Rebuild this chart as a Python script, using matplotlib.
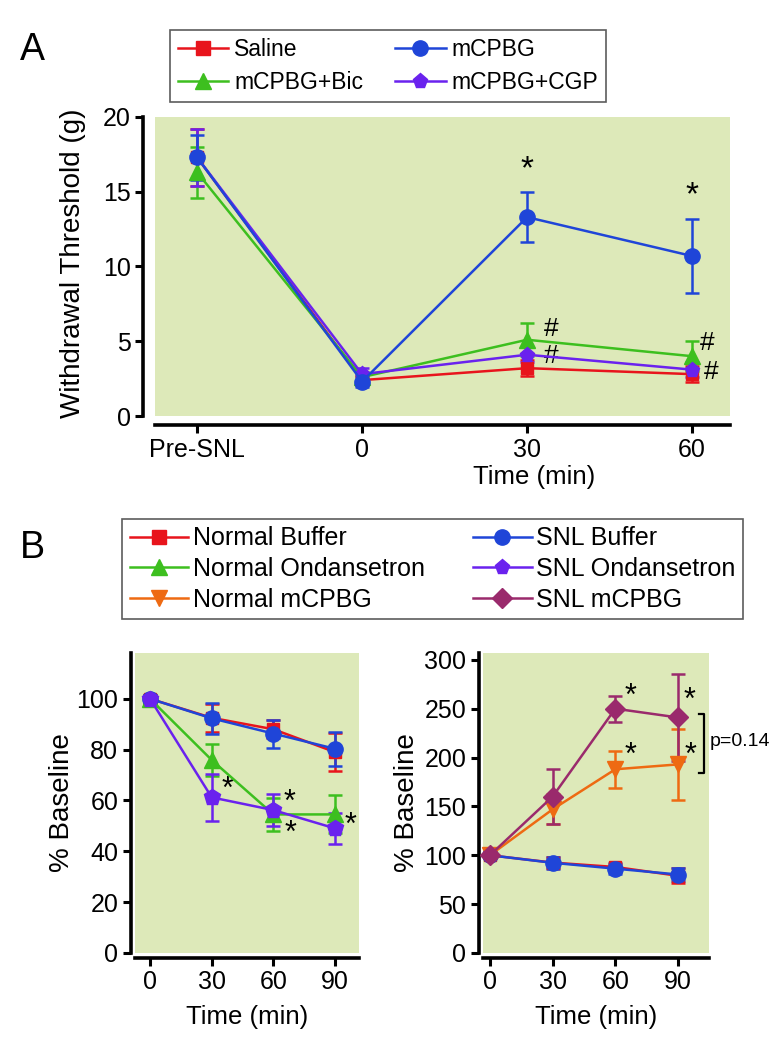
"""Withdrawal threshold (A) and % baseline responses (B) for SNL / mCPBG study."""

import matplotlib
matplotlib.use("Agg")
import matplotlib.pyplot as plt
from matplotlib.lines import Line2D

plt.rcParams["font.family"] = ["Liberation Sans", "DejaVu Sans"]

# ---- panel A data ----------------------------------------------------------
a_labels = ["Pre-SNL", "0", "30", "60"]
saline = [17.3, 2.4, 3.2, 2.8]
saline_err = [1.9, 0.3, 0.55, 0.55]
mcpbg = [17.3, 2.3, 13.3, 10.7]
mcpbg_err = [1.5, 0.35, 1.65, 2.5]
bic = [16.3, 2.6, 5.1, 4.0]
bic_err = [1.7, 0.35, 1.1, 1.0]
cgp = [17.3, 2.8, 4.1, 3.1]
cgp_err = [1.9, 0.4, 0.5, 0.5]

# ---- panel B data ----------------------------------------------------------
b_time = [0, 30, 60, 90]
normal_buffer = [100, 92.5, 88.0, 79.0]
normal_buffer_err = [1.5, 5.5, 3.5, 7.5]
snl_buffer = [100, 92.3, 86.3, 80.3]
snl_buffer_err = [1.5, 6.0, 5.5, 6.7]
normal_ond = [100, 75.9, 54.5, 54.5]
normal_ond_err = [1.5, 6.3, 6.5, 7.5]
snl_ond = [100, 61.2, 56.2, 49.0]
snl_ond_err = [1.5, 9.3, 6.2, 6.0]
normal_mcpbg = [100, 147.0, 188.0, 193.0]
normal_mcpbg_err = [3, 15.5, 19.0, 36.0]
snl_mcpbg = [100, 160.0, 250.0, 241.0]
snl_mcpbg_err = [3, 28.0, 13.5, 45.0]

RED = "#e8141c"
BLUE = "#1f45d8"
GREEN = "#3dbf1f"
PURPLE = "#6a22ee"
ORANGE = "#ee6a12"
MAGENTA = "#9a2a6c"
BG = "#dde9b9"

TICK_FS = 18
XLABEL_FS = 18.5
YLABEL_FS = 20


def style_axes(ax, left_out, bottom_out):
    ax.set_facecolor(BG)
    for side in ("top", "right"):
        ax.spines[side].set_visible(False)
    ax.spines["left"].set_position(("outward", left_out))
    ax.spines["bottom"].set_position(("outward", bottom_out))
    for side in ("left", "bottom"):
        ax.spines[side].set_linewidth(2.6)
    ax.tick_params(width=2.2, length=6, labelsize=TICK_FS, pad=3)


def series(ax, x, y, err, color, marker, label, ms=10):
    ax.errorbar(x, y, yerr=err, color=color, marker=marker, ms=ms,
                lw=1.8, elinewidth=1.8, capsize=5, capthick=1.8,
                label=label, clip_on=False, zorder=3)


def legend_handle(color, marker, ms=11):
    return Line2D([], [], color=color, marker=marker, lw=1.8, ms=ms)


fig = plt.figure(figsize=(7.75, 10.5), dpi=100)

# ---- panel A ---------------------------------------------------------------
axA = fig.add_axes([0.2, 0.6038, 0.742, 0.2848])
style_axes(axA, 8.5, 6.5)
xa = list(range(len(a_labels)))
series(axA, xa, saline, saline_err, RED, "s", "Saline", ms=9)
series(axA, xa, bic, bic_err, GREEN, "^", "mCPBG+Bic", ms=11)
series(axA, xa, cgp, cgp_err, PURPLE, "p", "mCPBG+CGP", ms=11)
series(axA, xa, mcpbg, mcpbg_err, BLUE, "o", "mCPBG", ms=11)
axA.set_xlim(-0.255, 3.23)
axA.set_ylim(0, 20)
axA.set_xticks(xa)
axA.set_xticklabels(a_labels)
axA.set_yticks([0, 5, 10, 15, 20])
axA.set_ylabel("Withdrawal Threshold (g)", fontsize=YLABEL_FS)
axA.yaxis.set_label_coords(-0.12, 0.51)
axA.set_xlabel("Time (min)", fontsize=XLABEL_FS)
axA.xaxis.set_label_coords(0.66, -0.165)

for xi in (2, 3):
    axA.text(xi, mcpbg[xi] + mcpbg_err[xi] + 0.5, "*", ha="center",
             va="bottom", fontsize=24)
axA.text(2.1, bic[2] + 0.7, "#", fontsize=19, va="center")
axA.text(2.1, cgp[2] - 0.1, "#", fontsize=19, va="center")
axA.text(3.05, bic[3] + 0.9, "#", fontsize=19, va="center")
axA.text(3.07, cgp[3] - 0.15, "#", fontsize=19, va="center")

legA = fig.legend(
    [legend_handle(RED, "s", 10), legend_handle(GREEN, "^"),
     legend_handle(BLUE, "o"), legend_handle(PURPLE, "p")],
    ["Saline", "mCPBG+Bic", "mCPBG", "mCPBG+CGP"], ncol=2,
    loc="upper left", bbox_to_anchor=(170 / 775, 1 - 30 / 1050),
    borderaxespad=0, fontsize=16.5, frameon=True, fancybox=False,
    edgecolor="#333333", handlelength=2.2, columnspacing=1.4,
    handletextpad=0.25, borderpad=0.35, labelspacing=0.45)
legA.get_frame().set_linewidth(1.2)

fig.text(0.026, 0.952, "A", fontsize=27, va="center")
fig.text(0.026, 0.478, "B", fontsize=27, va="center")

# ---- panel B left ----------------------------------------------------------
axL = fig.add_axes([0.1742, 0.0924, 0.289, 0.2857])
style_axes(axL, 3, 3.5)
series(axL, b_time, normal_buffer, normal_buffer_err, RED, "s", "Normal Buffer", ms=9)
series(axL, b_time, snl_buffer, snl_buffer_err, BLUE, "o", "SNL Buffer", ms=11)
series(axL, b_time, normal_ond, normal_ond_err, GREEN, "^", "Normal Ondansetron", ms=11)
series(axL, b_time, snl_ond, snl_ond_err, PURPLE, "p", "SNL Ondansetron", ms=12)
axL.set_xlim(-7.3, 101.6)
axL.set_ylim(0, 118)
axL.set_xticks(b_time)
axL.set_yticks([0, 20, 40, 60, 80, 100])
axL.set_ylabel("% Baseline", fontsize=YLABEL_FS)
axL.yaxis.set_label_coords(-0.27, 0.5)
axL.set_xlabel("Time (min)", fontsize=XLABEL_FS, labelpad=8)
axL.text(37.5, 64, "*", fontsize=22, ha="center", va="center")
axL.text(68, 59, "*", fontsize=22, ha="center", va="center")
axL.text(68.5, 47, "*", fontsize=22, ha="center", va="center")
axL.text(97.5, 50, "*", fontsize=22, ha="center", va="center")

# ---- panel B right ---------------------------------------------------------
axR = fig.add_axes([0.6232, 0.0924, 0.2916, 0.2857])
style_axes(axR, 3, 3.5)
series(axR, b_time, normal_buffer, normal_buffer_err, RED, "s", "Normal Buffer", ms=9)
series(axR, b_time, snl_buffer, snl_buffer_err, BLUE, "o", "SNL Buffer", ms=11)
series(axR, b_time, normal_mcpbg, normal_mcpbg_err, ORANGE, "v", "Normal mCPBG", ms=11)
series(axR, b_time, snl_mcpbg, snl_mcpbg_err, MAGENTA, "D", "SNL mCPBG", ms=10)
axR.set_xlim(-3.3, 104.8)
axR.set_ylim(0, 307)
axR.set_xticks(b_time)
axR.set_yticks([0, 50, 100, 150, 200, 250, 300])
axR.set_ylabel("% Baseline", fontsize=YLABEL_FS)
axR.yaxis.set_label_coords(-0.28, 0.5)
axR.set_xlabel("Time (min)", fontsize=XLABEL_FS, labelpad=8)
for xs, ys in ((67.5, 262), (95.7, 258), (67.5, 202), (96, 202)):
    axR.text(xs, ys, "*", fontsize=22, ha="center", va="center")
br_x0, br_x1, br_top, br_bot = 99.8, 102.6, 245, 184.5
axR.plot([br_x0, br_x1, br_x1, br_x0], [br_top, br_top, br_bot, br_bot],
         color="black", lw=1.6, clip_on=False)
axR.text(105.3, 216, "p=0.14", fontsize=14, va="center")

# ---- panel B legend --------------------------------------------------------
legB = fig.legend(
    [legend_handle(RED, "s", 10), legend_handle(GREEN, "^"),
     legend_handle(ORANGE, "v"), legend_handle(BLUE, "o"),
     legend_handle(PURPLE, "p"), legend_handle(MAGENTA, "D", 10)],
    ["Normal Buffer", "Normal Ondansetron", "Normal mCPBG",
     "SNL Buffer", "SNL Ondansetron", "SNL mCPBG"], ncol=2,
    loc="upper left", bbox_to_anchor=(122 / 775, 1 - 519 / 1050),
    borderaxespad=0, fontsize=18, frameon=True, fancybox=False,
    edgecolor="#333333", handlelength=2.35, columnspacing=1.9,
    handletextpad=0.2, borderpad=0.3, labelspacing=0.27)
legB.get_frame().set_linewidth(1.2)

fig.savefig("out.png", dpi=100, facecolor="white")
